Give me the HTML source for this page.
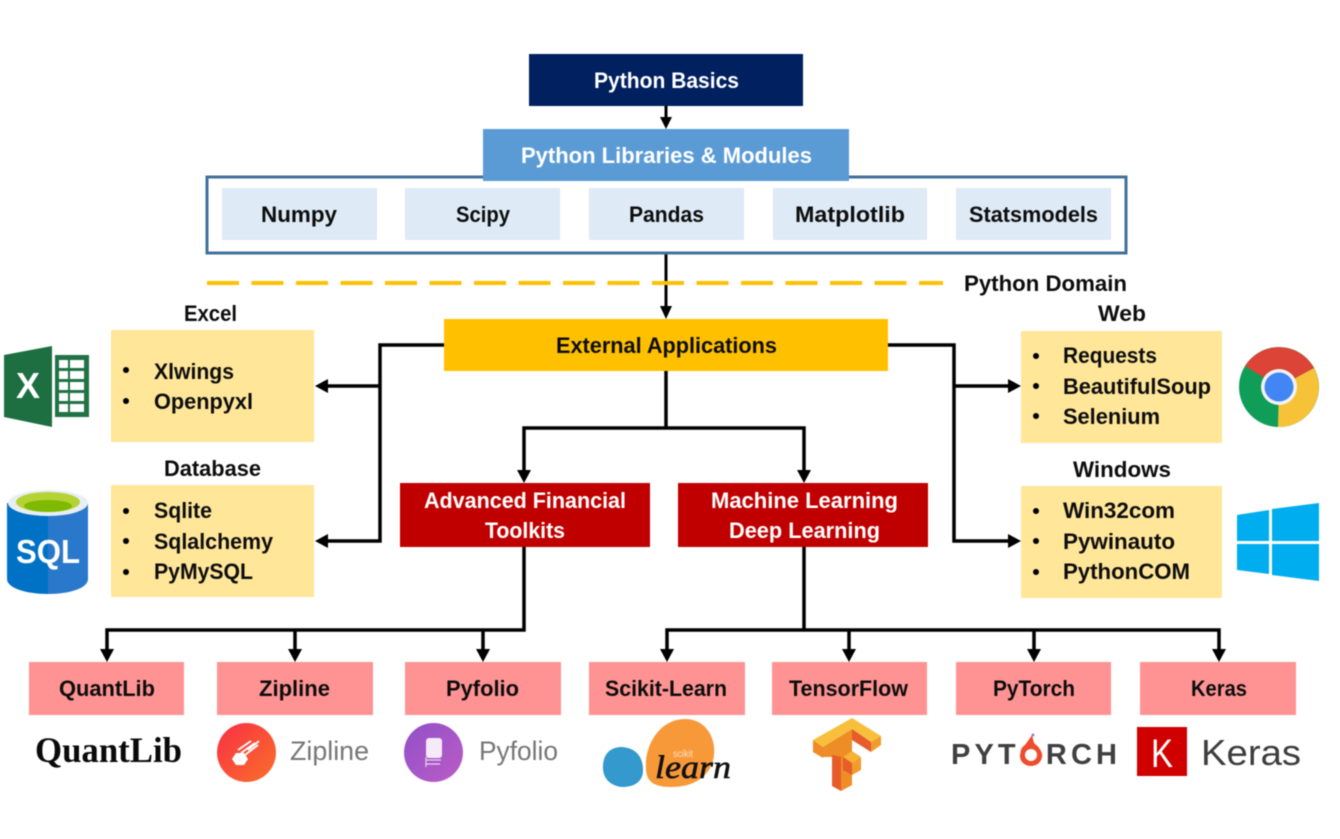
<!DOCTYPE html>
<html lang="en">
<head>
<meta charset="utf-8">
<title>Python Roadmap</title>
<style>
html,body{margin:0;padding:0;background:#fff;width:1340px;height:839px;overflow:hidden}
svg{display:block;filter:blur(.45px)}
text{font-family:"Liberation Sans",sans-serif}
.t{font-size:22.5px;font-weight:bold;fill:#0d0d0d}
.w{font-size:22.5px;font-weight:bold;fill:#fff}
.l{fill:none;stroke:#000;stroke-width:3.5}
.m{fill:none;stroke:#000;stroke-width:3}
</style>
</head>
<body>
<svg width="1340" height="839" viewBox="0 0 1340 839" xmlns="http://www.w3.org/2000/svg">
<defs>
<linearGradient id="zg" x1="0" y1="0" x2="1" y2="1"><stop offset="0" stop-color="#f92f45"/><stop offset="1" stop-color="#f9702a"/></linearGradient>
<linearGradient id="pg" x1="0" y1="0" x2="1" y2="1"><stop offset="0" stop-color="#9150c8"/><stop offset="1" stop-color="#bb5cc6"/></linearGradient>
</defs>
<rect width="1340" height="839" fill="#fff"/>

<!-- connectors -->
<path class="m" d="M666 106V120"/><path d="M660 117H672L666 129Z"/>
<path class="m" d="M666 253V308"/><path d="M660 306H672L666 319Z"/>
<path d="M207 283H943" fill="none" stroke="#FFC000" stroke-width="4" stroke-dasharray="32 12.5"/>

<path class="l" d="M444 345H380V541H326"/>
<path class="l" d="M380 386H326"/>
<path d="M328 379V393L315 386Z"/><path d="M328 534V548L315 541Z"/>
<path class="l" d="M888 345H954V541H1010"/>
<path class="l" d="M954 386H1010"/>
<path d="M1008 379V393L1021 386Z"/><path d="M1008 534V548L1021 541Z"/>
<path class="l" d="M666 371V428"/>
<path class="l" d="M524 472V428H804V472"/>
<path d="M517 470H531L524 483Z"/><path d="M797 470H811L804 483Z"/>

<path class="l" d="M524 547V630H107V652"/>
<path class="l" d="M295 630V652"/><path class="l" d="M483 630V652"/>
<path d="M100 649H114L107 662Z"/><path d="M288 649H302L295 662Z"/><path d="M476 649H490L483 662Z"/>
<path class="l" d="M804 547V630"/>
<path class="l" d="M667 652V630H1219V652"/>
<path class="l" d="M849 630V652"/><path class="l" d="M1034 630V652"/>
<path d="M660 649H674L667 662Z"/><path d="M842 649H856L849 662Z"/><path d="M1027 649H1041L1034 662Z"/><path d="M1212 649H1226L1219 662Z"/>

<!-- top boxes -->
<rect x="529" y="54" width="274" height="52" fill="#002060"/>
<text class="w" x="594" y="88" textLength="145" lengthAdjust="spacingAndGlyphs">Python Basics</text>
<rect x="207" y="177" width="919" height="76" fill="#fff" stroke="#41719C" stroke-width="3"/>
<rect x="483" y="129" width="366" height="52" fill="#5B9BD5"/>
<text class="w" x="521" y="163" textLength="291" lengthAdjust="spacingAndGlyphs">Python Libraries &amp; Modules</text>

<g fill="#DEEAF6">
<rect x="222" y="188" width="155" height="52"/>
<rect x="405" y="188" width="155" height="52"/>
<rect x="589" y="188" width="155" height="52"/>
<rect x="773" y="188" width="154" height="52"/>
<rect x="956" y="188" width="155" height="52"/>
</g>
<text class="t" x="261" y="222" textLength="76" lengthAdjust="spacingAndGlyphs">Numpy</text>
<text class="t" x="456" y="222" textLength="54" lengthAdjust="spacingAndGlyphs">Scipy</text>
<text class="t" x="629" y="222" textLength="75" lengthAdjust="spacingAndGlyphs">Pandas</text>
<text class="t" x="795" y="222" textLength="110" lengthAdjust="spacingAndGlyphs">Matplotlib</text>
<text class="t" x="969" y="222" textLength="129" lengthAdjust="spacingAndGlyphs">Statsmodels</text>
<text class="t" x="964" y="291" textLength="163" lengthAdjust="spacingAndGlyphs">Python Domain</text>

<rect x="444" y="319" width="444" height="52" fill="#FFC000"/>
<text class="t" x="556" y="353" textLength="221" lengthAdjust="spacingAndGlyphs">External Applications</text>

<!-- red boxes -->
<rect x="400" y="483" width="250" height="64" fill="#C00000"/>
<rect x="678" y="483" width="250" height="64" fill="#C00000"/>
<text class="w" x="424" y="508" textLength="202" lengthAdjust="spacingAndGlyphs">Advanced Financial</text>
<text class="w" x="485" y="538" textLength="80" lengthAdjust="spacingAndGlyphs">Toolkits</text>
<text class="w" x="711" y="508" textLength="187" lengthAdjust="spacingAndGlyphs">Machine Learning</text>
<text class="w" x="729" y="538" textLength="151" lengthAdjust="spacingAndGlyphs">Deep Learning</text>

<!-- yellow boxes -->
<g fill="#FFE699">
<rect x="111" y="330" width="203" height="112"/>
<rect x="111" y="485" width="203" height="112"/>
<rect x="1021" y="331" width="201" height="112"/>
<rect x="1021" y="486" width="201" height="112"/>
</g>
<text class="t" x="184" y="321" textLength="53" lengthAdjust="spacingAndGlyphs">Excel</text>
<text class="t" x="164" y="476" textLength="97" lengthAdjust="spacingAndGlyphs">Database</text>
<text class="t" x="1098" y="321" textLength="48" lengthAdjust="spacingAndGlyphs">Web</text>
<text class="t" x="1073" y="477" textLength="98" lengthAdjust="spacingAndGlyphs">Windows</text>
<g fill="#000">
<circle cx="126" cy="370" r="3"/><circle cx="126" cy="401" r="3"/>
<circle cx="126" cy="511" r="3"/><circle cx="126" cy="541" r="3"/><circle cx="126" cy="572" r="3"/>
<circle cx="1036" cy="356" r="3"/><circle cx="1036" cy="386" r="3"/><circle cx="1036" cy="416" r="3"/>
<circle cx="1036" cy="511" r="3"/><circle cx="1036" cy="541" r="3"/><circle cx="1036" cy="572" r="3"/>
</g>
<text class="t" x="154" y="379" textLength="80" lengthAdjust="spacingAndGlyphs">Xlwings</text>
<text class="t" x="154" y="409" textLength="99" lengthAdjust="spacingAndGlyphs">Openpyxl</text>
<text class="t" x="154" y="518" textLength="58" lengthAdjust="spacingAndGlyphs">Sqlite</text>
<text class="t" x="154" y="549" textLength="119" lengthAdjust="spacingAndGlyphs">Sqlalchemy</text>
<text class="t" x="154" y="579" textLength="99" lengthAdjust="spacingAndGlyphs">PyMySQL</text>
<text class="t" x="1063" y="363" textLength="94" lengthAdjust="spacingAndGlyphs">Requests</text>
<text class="t" x="1063" y="394" textLength="148" lengthAdjust="spacingAndGlyphs">BeautifulSoup</text>
<text class="t" x="1063" y="424" textLength="97" lengthAdjust="spacingAndGlyphs">Selenium</text>
<text class="t" x="1063" y="518" textLength="112" lengthAdjust="spacingAndGlyphs">Win32com</text>
<text class="t" x="1063" y="549" textLength="112" lengthAdjust="spacingAndGlyphs">Pywinauto</text>
<text class="t" x="1063" y="579" textLength="127" lengthAdjust="spacingAndGlyphs">PythonCOM</text>

<!-- pink boxes -->
<g fill="#FF9393">
<rect x="29" y="662" width="155" height="53"/>
<rect x="217" y="662" width="156" height="53"/>
<rect x="405" y="662" width="156" height="53"/>
<rect x="589" y="662" width="156" height="53"/>
<rect x="772" y="662" width="155" height="53"/>
<rect x="956" y="662" width="155" height="53"/>
<rect x="1140" y="662" width="156" height="53"/>
</g>
<text class="t" x="59" y="696" textLength="96" lengthAdjust="spacingAndGlyphs">QuantLib</text>
<text class="t" x="259" y="696" textLength="71" lengthAdjust="spacingAndGlyphs">Zipline</text>
<text class="t" x="446" y="696" textLength="73" lengthAdjust="spacingAndGlyphs">Pyfolio</text>
<text class="t" x="605" y="696" textLength="122" lengthAdjust="spacingAndGlyphs">Scikit-Learn</text>
<text class="t" x="789" y="696" textLength="119" lengthAdjust="spacingAndGlyphs">TensorFlow</text>
<text class="t" x="993" y="696" textLength="82" lengthAdjust="spacingAndGlyphs">PyTorch</text>
<text class="t" x="1191" y="696" textLength="56" lengthAdjust="spacingAndGlyphs">Keras</text>

<!-- Excel logo -->
<rect x="55" y="355" width="34" height="62" fill="#217346"/>
<g fill="#fff">
<rect x="59" y="360" width="9" height="8"/><rect x="70" y="360" width="14" height="8"/>
<rect x="59" y="371" width="9" height="8"/><rect x="70" y="371" width="14" height="8"/>
<rect x="59" y="382" width="9" height="8"/><rect x="70" y="382" width="14" height="8"/>
<rect x="59" y="393" width="9" height="8"/><rect x="70" y="393" width="14" height="8"/>
<rect x="59" y="404" width="9" height="8"/><rect x="70" y="404" width="14" height="8"/>
</g>
<polygon points="4,355 52,346 52,427 4,417" fill="#1D6F42"/>
<text x="28" y="398" text-anchor="middle" fill="#fff" font-size="36" font-weight="bold">X</text>

<!-- SQL logo -->
<path d="M7 503V579C7 588 26 594 48 594V503Z" fill="#0072C6"/>
<path d="M88 503V579C88 588 70 594 48 594V503Z" fill="#2A78CB"/>
<ellipse cx="48" cy="503" rx="40" ry="13" fill="#e8eef4"/>
<ellipse cx="48" cy="502" rx="32" ry="10" fill="#B5D334"/>
<ellipse cx="48" cy="506" rx="24" ry="6" fill="#7FB900"/>
<text x="48" y="563" text-anchor="middle" fill="#fff" font-size="33" font-weight="bold" textLength="64" lengthAdjust="spacingAndGlyphs">SQL</text>

<!-- Chrome logo -->
<circle cx="1279" cy="387" r="40" fill="#109D58"/>
<path d="M1279 387L1245 366A40 40 0 0 1 1314 368Z" fill="#DB4437"/>
<path d="M1279 387L1314 368A40 40 0 0 1 1278 427Z" fill="#F6C338"/>
<circle cx="1279" cy="387" r="18" fill="#f2f2f2"/>
<circle cx="1279" cy="387" r="14.5" fill="#4285F4"/>

<!-- Windows logo -->
<g fill="#00ADEF">
<polygon points="1237,515 1269,510 1269,541 1237,541"/>
<polygon points="1272,509 1319,503 1319,541 1272,541"/>
<polygon points="1237,544 1269,544 1269,574 1237,570"/>
<polygon points="1272,544 1319,544 1319,581 1272,575"/>
</g>

<!-- QuantLib -->
<text x="35" y="762" font-size="36" font-weight="bold" fill="#0a0a0a" style="font-family:'Liberation Serif',serif" textLength="147" lengthAdjust="spacingAndGlyphs">QuantLib</text>

<!-- Zipline -->
<circle cx="246.5" cy="752.5" r="29.5" fill="url(#zg)"/>
<polygon points="232,759 236,753 244,753 248,759 244,765 236,765" fill="#fff"/>
<path d="M238 750L251 741M241 753L255 743M245 755L258 745M248 750L259 741" stroke="#fff" stroke-width="1.8" fill="none"/>
<text x="290" y="760" font-size="27" fill="#777" textLength="79" lengthAdjust="spacingAndGlyphs">Zipline</text>

<!-- Pyfolio -->
<circle cx="433.5" cy="752.5" r="29.5" fill="url(#pg)"/>
<rect x="426" y="738" width="16" height="20" rx="3" fill="#fff" fill-opacity=".88"/>
<path d="M426 757V767M426 760H441M426 764H440" stroke="#fff" stroke-opacity=".75" stroke-width="1.2" fill="none"/>
<text x="479" y="760" font-size="27" fill="#777" textLength="79" lengthAdjust="spacingAndGlyphs">Pyfolio</text>

<!-- scikit-learn -->
<path d="M603 765C604 752 612 747 622 747C636 748 643 757 643 770C643 782 634 787 622 787C610 786 602 778 603 765Z" fill="#3499CD"/>
<path d="M646 770C644 745 660 719 685 719C706 719 716 738 714 755C712 775 695 787 672 787C654 787 647 782 646 770Z" fill="#F89939"/>
<text x="673" y="757" font-size="10" fill="#fde3c4" textLength="20" lengthAdjust="spacingAndGlyphs">scikit</text>
<text x="655" y="778" font-size="33" font-style="italic" fill="#111" stroke="#111" stroke-width=".6" style="font-family:'Liberation Serif',serif" textLength="76" lengthAdjust="spacingAndGlyphs">learn</text>

<!-- TensorFlow -->
<polygon points="823,747 852,729 852,785 841,791 841,757 823,757" fill="#EE8C25"/>
<polygon points="813,740 823,747 823,758 813,752" fill="#F08A26"/>
<polygon points="813,740 852,718 881,736 871,742 852,729 823,747" fill="#F8BF3C"/>
<polygon points="852,729 871,742 871,752 852,740" fill="#E65C2B"/>
<polygon points="871,742 881,736 881,745 871,752" fill="#F29B2B"/>
<polygon points="832,755 841,757 841,791 832,786" fill="#E65C2B"/>
<polygon points="843,757 852,751 861,757 852,763" fill="#F6B234"/>
<polygon points="843,757 852,763 852,775 843,770" fill="#E65C2B"/>
<polygon points="852,763 861,757 861,770 852,775" fill="#F29B2B"/>

<!-- PyTorch -->
<text x="951" y="764" font-size="29" font-weight="bold" fill="#404040" textLength="166" lengthAdjust="spacing">PYT<tspan fill="#EE4C2C">O</tspan>RCH</text>
<path d="M1032 735L1034 743C1040 748 1043 753 1042 757C1041 763 1036 766 1031 766C1025 766 1020 762 1020 756C1020 750 1027 743 1032 735Z" fill="#EE4C2C"/>
<circle cx="1031" cy="755" r="6" fill="#fff"/>
<circle cx="1033" cy="735" r="1.5" fill="#a07ac8"/>

<!-- Keras -->
<rect x="1137" y="727" width="50" height="49" fill="#D00000"/>
<text x="1151" y="767" font-size="40" fill="#fff" textLength="22" lengthAdjust="spacingAndGlyphs">K</text>
<text x="1201" y="765" font-size="36" fill="#3d3d3d" textLength="100" lengthAdjust="spacingAndGlyphs">Keras</text>
</svg>
</body>
</html>
